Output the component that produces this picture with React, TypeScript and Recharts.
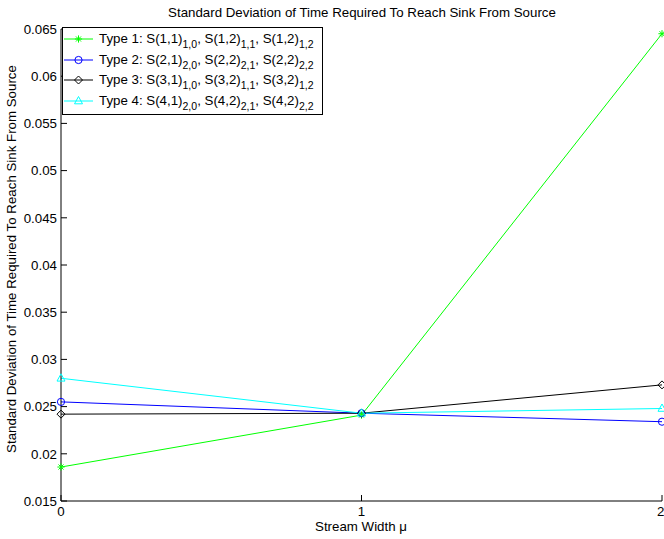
import React from 'react';
import { LineChart, Line, XAxis, YAxis, Legend, Customized } from 'recharts';

const FONT = '"Liberation Sans", Arial, Helvetica, sans-serif';
const FS = 13.3;

const streamWidths = [0, 1, 2];
const type1 = [0.0186, 0.0241, 0.0645];
const type2 = [0.0255, 0.0243, 0.0234];
const type3 = [0.0242, 0.0243, 0.0273];
const type4 = [0.028, 0.0243, 0.0248];

const xTicks = [0, 1, 2];
const yTicks = [0.015, 0.02, 0.025, 0.03, 0.035, 0.04, 0.045, 0.05, 0.055, 0.06, 0.065];

const title = 'Standard Deviation of Time Required To Reach Sink From Source';
const xLabel = 'Stream Width \u03bc';
const yLabel = 'Standard Deviation of Time Required To Reach Sink From Source';

// legend text: [main text, subscript] pieces
const legend1 = [['Type 1: S(1,1)', '1,0'], [', S(1,2)', '1,1'], [', S(1,2)', '1,2']];
const legend2 = [['Type 2: S(2,1)', '2,0'], [', S(2,2)', '2,1'], [', S(2,2)', '2,2']];
const legend3 = [['Type 3: S(3,1)', '1,0'], [', S(3,2)', '1,1'], [', S(3,2)', '1,2']];
const legend4 = [['Type 4: S(4,1)', '2,0'], [', S(4,2)', '2,1'], [', S(4,2)', '2,2']];

const data = streamWidths.map((x, i) => ({
  x,
  t1: type1[i],
  t2: type2[i],
  t3: type3[i],
  t4: type4[i],
}));

type Marker = 'star' | 'circle' | 'diamond' | 'triangle';

function MarkerShape({ cx, cy, kind, color }: { cx: number; cy: number; kind: Marker; color: string }) {
  const s = 3.6;
  if (kind === 'star') {
    return (
      <g stroke={color} strokeWidth={1} fill="none">
        <line x1={cx - s} y1={cy} x2={cx + s} y2={cy} />
        <line x1={cx} y1={cy - s} x2={cx} y2={cy + s} />
        <line x1={cx - s * 0.7} y1={cy - s * 0.7} x2={cx + s * 0.7} y2={cy + s * 0.7} />
        <line x1={cx - s * 0.7} y1={cy + s * 0.7} x2={cx + s * 0.7} y2={cy - s * 0.7} />
      </g>
    );
  }
  if (kind === 'circle') {
    return <circle cx={cx} cy={cy} r={3.6} stroke={color} strokeWidth={1} fill="none" />;
  }
  if (kind === 'diamond') {
    return (
      <polygon
        points={`${cx},${cy - 4} ${cx + 4},${cy} ${cx},${cy + 4} ${cx - 4},${cy}`}
        stroke={color}
        strokeWidth={1}
        fill="none"
      />
    );
  }
  return (
    <polygon
      points={`${cx},${cy - 4.5} ${cx + 4},${cy + 2.8} ${cx - 4},${cy + 2.8}`}
      stroke={color}
      strokeWidth={1}
      fill="none"
    />
  );
}

const series: { key: string; color: string; marker: Marker; label: string[][] }[] = [
  { key: 't1', color: '#00ff00', marker: 'star', label: legend1 },
  { key: 't2', color: '#0000ff', marker: 'circle', label: legend2 },
  { key: 't3', color: '#000000', marker: 'diamond', label: legend3 },
  { key: 't4', color: '#00ffff', marker: 'triangle', label: legend4 },
];

function makeDot(kind: Marker, color: string) {
  return (props: any) => {
    const { cx, cy, index } = props;
    if (cx == null || cy == null) return <g key={`d-${kind}-${index}`} />;
    return (
      <g key={`d-${kind}-${index}`}>
        <MarkerShape cx={cx} cy={cy} kind={kind} color={color} />
      </g>
    );
  };
}

function LegendBox() {
  return (
    <div
      style={{
        border: '1.5px solid #000',
        background: '#fff',
        fontFamily: FONT,
        fontSize: FS,
        color: '#000',
        padding: '1px 0 3px 0',
        width: 261,
        boxSizing: 'border-box',
      }}
    >
      {series.map((s) => (
        <div key={s.key} style={{ display: 'flex', alignItems: 'center', height: 20.5, whiteSpace: 'nowrap' }}>
          <svg width={36} height={14} style={{ flex: 'none' }}>
            <line x1={1} y1={7} x2={30} y2={7} stroke={s.color} strokeWidth={1} />
            <MarkerShape cx={15.5} cy={7} kind={s.marker} color={s.color} />
          </svg>
          <span style={{ lineHeight: '14px' }}>
            {s.label.map(([main, sub], i) => (
              <React.Fragment key={i}>
                {main}
                <sub style={{ fontSize: 10.5, verticalAlign: -5, lineHeight: 0 }}>{sub}</sub>
              </React.Fragment>
            ))}
          </span>
        </div>
      ))}
    </div>
  );
}

function Texts() {
  return (
    <g fontFamily={FONT} fill="#000">
      <text x={362} y={17} fontSize={FS} textAnchor="middle">
        {title}
      </text>
      <text x={361} y={531} fontSize={FS} textAnchor="middle">
        {xLabel}
      </text>
      <text x={16} y={259} fontSize={FS} textAnchor="middle" transform="rotate(-90 16 259)">
        {yLabel}
      </text>
    </g>
  );
}

export default function App() {
  const tickStyle = { fill: '#000', fontSize: FS, fontFamily: FONT };
  return (
    <div style={{ position: 'absolute', left: 0, top: 0, background: '#fff' }}>
      <LineChart width={664} height={539} data={data} margin={{ top: 29, right: 2, left: 0, bottom: 0 }}>
        <XAxis
          xAxisId="b"
          dataKey="x"
          type="number"
          domain={[0, 2]}
          ticks={xTicks}
          height={38}
          tickSize={-6}
          tickMargin={12}
          stroke="#000"
          tick={tickStyle}
        />
        <XAxis
          xAxisId="t"
          dataKey="x"
          type="number"
          orientation="top"
          domain={[0, 2]}
          ticks={xTicks}
          height={0}
          tickSize={-6}
          stroke="#000"
          tickFormatter={() => ''}
        />
        <YAxis
          yAxisId="l"
          type="number"
          domain={[0.015, 0.065]}
          ticks={yTicks}
          width={61}
          tickSize={-6}
          tickMargin={10}
          stroke="#000"
          tick={tickStyle}
          interval={0}
        />
        <YAxis
          yAxisId="r"
          orientation="right"
          type="number"
          domain={[0.015, 0.065]}
          ticks={yTicks}
          width={0}
          tickSize={-6}
          stroke="#000"
          tickFormatter={() => ''}
          interval={0}
        />
        {series.map((s) => (
          <Line
            key={s.key}
            xAxisId="b"
            yAxisId="l"
            dataKey={s.key}
            type="linear"
            stroke={s.color}
            strokeWidth={1}
            dot={makeDot(s.marker, s.color)}
            activeDot={false}
            isAnimationActive={false}
          />
        ))}
        <Legend
          layout="vertical"
          align="center"
          verticalAlign="middle"
          content={() => <LegendBox />}
          wrapperStyle={{ left: 62, top: 27, width: 261, bottom: 'auto', right: 'auto' }}
        />
        <Customized component={Texts} />
      </LineChart>
    </div>
  );
}
